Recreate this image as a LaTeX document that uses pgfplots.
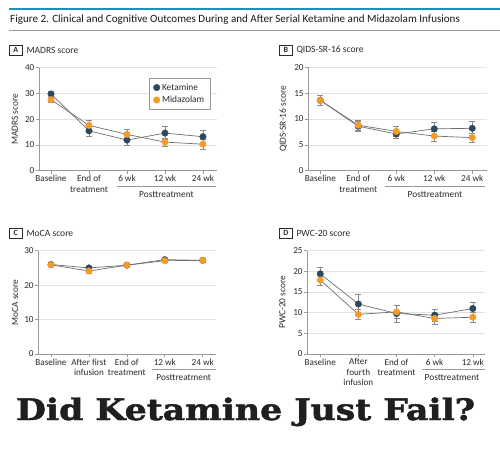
\documentclass[border=0pt]{standalone}
\usepackage{pgfplots}
\usepackage{pgfplotstable}
\usepackage{fontspec}
\pgfplotsset{compat=1.18}
\setmainfont{Carlito}
\newfontfamily\slab{DejaVu Serif}[UprightFont={* Bold}, FakeBold=1.6]

\definecolor{ketcol}{HTML}{2A4A5C}
\definecolor{midcol}{HTML}{F39C2A}
\definecolor{linegray}{HTML}{6E6E6E}
\definecolor{errgray}{HTML}{8A8A8A}
\definecolor{axgray}{HTML}{9A9A9A}
\definecolor{gridgray}{HTML}{E2E2E2}
\definecolor{txt}{HTML}{2A2A2A}
\definecolor{jamablue}{HTML}{1B8FC0}

% mean scores and error half-widths: k = ketamine, m = midazolam
\pgfplotstableread{
x k ke m me
0 29.8 1.2 27.6 1.1
1 15.5 2.0 17.6 1.9
2 11.9 1.9 14.1 1.9
3 14.6 2.5 11.1 1.6
4 13.2 2.5 10.3 2.0
}\madrs
\pgfplotstableread{
x k ke m me
0 13.6 0.9 13.6 0.9
1 8.6 1.0 8.8 1.0
2 7.1 0.8 7.6 0.9
3 8.1 1.3 6.7 1.0
4 8.2 1.3 6.4 0.9
}\qids
\pgfplotstableread{
x k ke m me
0 26.0 0.5 25.9 0.5
1 25.0 0.6 24.1 0.6
2 25.8 0.5 25.8 0.5
3 27.4 0.5 27.1 0.5
4 27.2 0.5 27.2 0.5
}\moca
\pgfplotstableread{
x k ke m me
0 19.4 1.5 17.9 1.3
1 12.1 2.3 9.6 1.3
2 9.8 2.1 10.2 1.5
3 9.4 1.5 8.6 1.3
4 11.0 1.6 8.9 1.3
}\pwc

\pgfplotsset{
  panel/.style={
    scale only axis, anchor=south west, clip=false,
    axis lines=left, axis line style={-, draw=axgray, line width=0.6bp},
    ymin=0, ymajorgrids, grid style={draw=gridgray, line width=0.6bp},
    xtick={0,1,2,3,4},
    tick style={draw=axgray, line width=0.6bp}, tick align=outside,
    major tick length=3bp,
    ticklabel style={font=\fontsize{9.2}{10.5}\selectfont, text=txt},
    xticklabel style={align=center, inner sep=1.5bp},
    yticklabel style={inner sep=1.5bp},
    /pgf/number format/assume math mode=true,
    ylabel style={font=\fontsize{9.4}{11}\selectfont, text=txt, anchor=center},
  },
  lineplot/.style={draw=linegray, line width=0.7bp, mark=none,
    error bars/.cd, y dir=both, y explicit,
    error bar style={draw=errgray, line width=0.6bp},
    error mark options={rotate=90, mark size=3bp, draw=errgray, line width=0.6bp}},
  ketmark/.style={only marks, mark=*, mark size=3.3bp,
    mark options={fill=ketcol, draw=ketcol, line width=0.3bp}},
  midmark/.style={only marks, mark=*, mark size=3.3bp,
    mark options={fill=midcol, draw=midcol, line width=0.3bp}},
}

\newcommand{\panelplots}[1]{%
  \addplot[lineplot] table[x=x, y=k, y error=ke]{#1};
  \addplot[lineplot] table[x=x, y=m, y error=me]{#1};
  \addplot[ketmark] table[x=x, y=k]{#1};
  \addplot[midmark] table[x=x, y=m]{#1};
}

\newcommand{\panelhead}[4]{% x, y, letter, title
  \draw[draw=txt, line width=0.5bp] (#1bp,-#2bp+4.8bp) rectangle ++(13bp,-9.6bp);
  \node[font=\fontsize{8}{9}\selectfont\bfseries, text=txt, inner sep=0pt]
    at (#1bp+6.5bp,-#2bp) {#3};
  \node[font=\fontsize{9.6}{11}\selectfont, text=txt, anchor=west, inner sep=0pt]
    at (#1bp+17bp,-#2bp) {#4};
}

\begin{document}
\begin{tikzpicture}
\useasboundingbox (0,0) rectangle (500bp,-454bp);

% header rules and title
\draw[jamablue, line width=2bp] (9bp,-9.3bp) -- (500bp,-9.3bp);
\draw[draw=axgray, line width=0.8bp] (9bp,-30.3bp) -- (500bp,-30.3bp);
\node[anchor=west, inner sep=0pt, font=\fontsize{11.1}{12}\selectfont, text=black!90]
  at (10bp,-20bp) {Figure 2. Clinical and Cognitive Outcomes During and After Serial Ketamine and Midazolam Infusions};

\panelhead{9.3}{50.3}{A}{MADRS score}
\panelhead{279.3}{50.3}{B}{QIDS-SR-16 score}
\panelhead{9.3}{233.3}{C}{MoCA score}
\panelhead{279.3}{233.3}{D}{PWC-20 score}

% A: MADRS
\begin{axis}[panel, at={(39bp,-170.7bp)}, width=178bp, height=103bp,
  xmin=-0.316, xmax=4.37, ymax=40, ytick={0,10,20,30,40},
  xticklabels={Baseline,{End of\\treatment},6 wk,12 wk,24 wk},
  ylabel={MADRS score}, ylabel style={at={(axis description cs:-0.135,0.5)}},
  legend style={at={(axis description cs:0.963,0.897)}, anchor=north east,
    draw=axgray, line width=0.6bp, font=\fontsize{9.4}{10}\selectfont, text=txt,
    inner xsep=4bp, inner ysep=3bp, row sep=0.5bp},
  legend cell align=left]
\addlegendimage{ketmark}
\addlegendentry{Ketamine}
\addlegendimage{midmark}
\addlegendentry{Midazolam}
\panelplots{\madrs}
\end{axis}

% B: QIDS-SR-16
\begin{axis}[panel, at={(308.3bp,-170.7bp)}, width=178.4bp, height=103.4bp,
  xmin=-0.316, xmax=4.38, ymax=20, ytick={0,5,10,15,20},
  xticklabels={Baseline,{End of\\treatment},6 wk,12 wk,24 wk},
  ylabel={QIDS-SR-16 score}, ylabel style={at={(axis description cs:-0.14,0.5)}}]
\panelplots{\qids}
\end{axis}

% C: MoCA
\begin{axis}[panel, at={(38.3bp,-354bp)}, width=177.7bp, height=103.3bp,
  xmin=-0.335, xmax=4.35, ymax=30, ytick={0,10,20,30},
  xticklabels={Baseline,{After first\\infusion},{End of\\treatment},12 wk,24 wk},
  ylabel={MoCA score}, ylabel style={at={(axis description cs:-0.131,0.5)}}]
\panelplots{\moca}
\end{axis}

% D: PWC-20
\begin{axis}[panel, at={(307.3bp,-354bp)}, width=177.7bp, height=103.3bp,
  xmin=-0.34, xmax=4.32, ymax=25, ytick={0,5,10,15,20,25},
  xticklabels={Baseline,{After\\fourth\\infusion},{End of\\treatment},6 wk,12 wk},
  ylabel={PWC-20 score}, ylabel style={at={(axis description cs:-0.14,0.5)}}]
\panelplots{\pwc}
\end{axis}

% posttreatment brackets
\begin{scope}[draw=axgray, line width=0.6bp, every node/.style={font=\fontsize{9.4}{10}\selectfont, text=txt, inner sep=0pt}]
\draw (117bp,-186bp) -- (216bp,-186bp);
\node at (166.5bp,-194.5bp) {Posttreatment};
\draw (385bp,-186bp) -- (485bp,-186bp);
\node at (435bp,-194.5bp) {Posttreatment};
\draw (151.7bp,-369.3bp) -- (216bp,-369.3bp);
\node at (183.7bp,-377.5bp) {Posttreatment};
\draw (421.7bp,-369.3bp) -- (485bp,-369.3bp);
\node at (452bp,-377.5bp) {Posttreatment};
\end{scope}

% headline
\node[inner sep=0pt, anchor=base, text=black!88] at (245.5bp,-420bp)
  {\resizebox{459bp}{22.5bp}{\slab Did Ketamine Just Fail?}};
\end{tikzpicture}
\end{document}
